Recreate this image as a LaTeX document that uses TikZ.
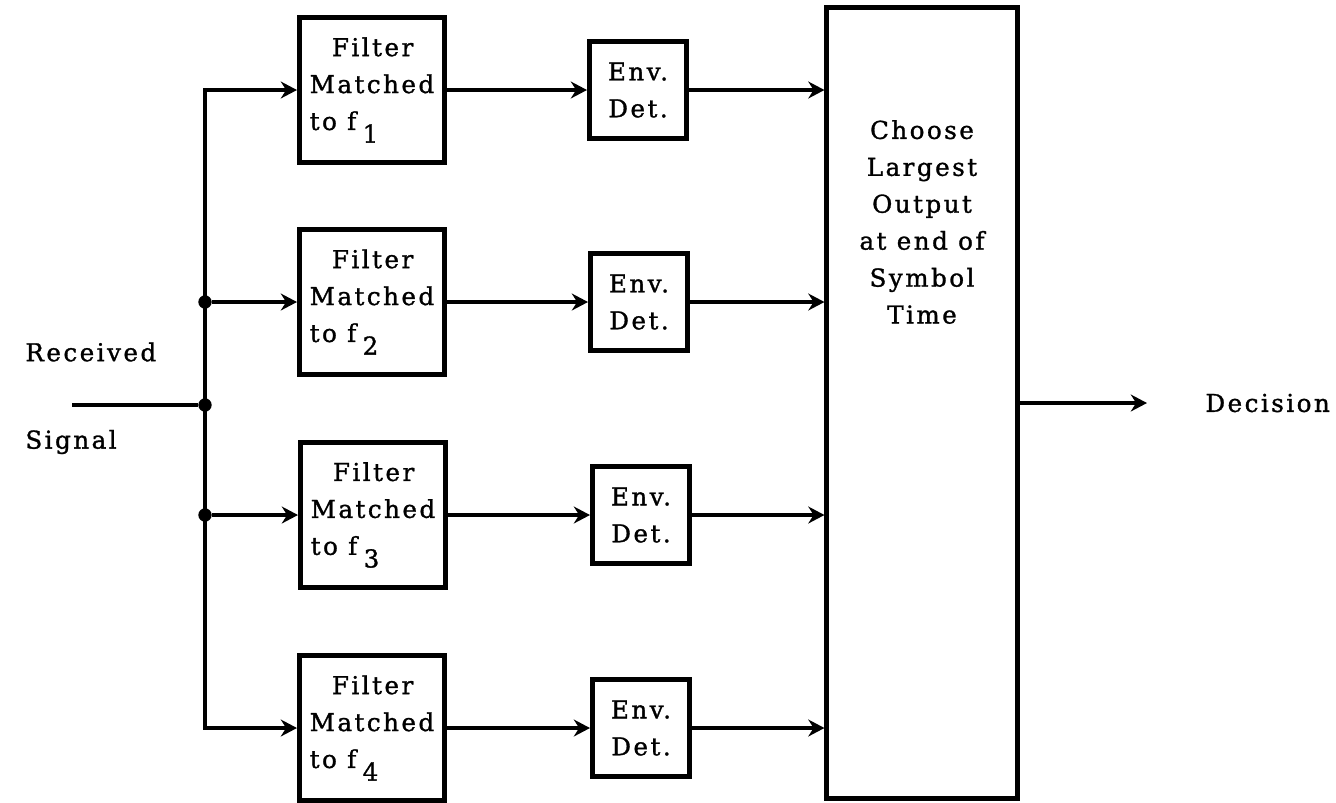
\documentclass[tikz,border=0pt]{standalone}
\usepackage{fontspec}
\setmainfont{DejaVu Serif}[LetterSpace=10,FakeBold=1.2]
\usepackage{tikz}
\usetikzlibrary{arrows.meta,positioning}
\newcommand{\fsub}[1]{f\kern1.8pt\raisebox{-3.6pt}{#1}}
\newcommand{\mfilt}[1]{\hspace*{0.9em}Filter\\Matched\\to \fsub{#1}}
\tikzset{
  blk/.style={draw=black,line width=1.4pt,inner sep=1pt,
              font=\fontsize{7}{10.5}\selectfont},
  fbox/.style={blk,minimum width=1.45cm,minimum height=1.45cm,align=left},
  ebox/.style={blk,minimum width=0.97cm,minimum height=0.97cm,align=center},
  cbox/.style={blk,minimum width=1.9cm,minimum height=7.9cm},
  dot/.style={circle,fill=black,inner sep=0pt,minimum size=3.8pt},
  wire/.style={line width=1.2pt},
  arr/.style={wire,-{Stealth[length=4.6pt,width=4.8pt,inset=1.5pt]}},
  lbl/.style={font=\fontsize{7}{10.5}\selectfont},
}

\begin{document}
\begin{tikzpicture}[x=0.01cm,y=-0.01cm]
  \useasboundingbox (0,0) rectangle (1336,802);

  \node[fbox] (f1) at (372,90)  {\mfilt{1}};
  \node[fbox] (f2) at (372,302) {\mfilt{2}};
  \node[fbox] (f3) at (373,515) {\mfilt{3}};
  \node[fbox] (f4) at (372,728) {\mfilt{4}};

  \node[ebox] (e1) at (638,90)  {Env.\\Det.};
  \node[ebox] (e2) at (639,302) {Env.\\Det.};
  \node[ebox] (e3) at (641,515) {Env.\\Det.};
  \node[ebox] (e4) at (641,728) {Env.\\Det.};

  \node[cbox] (cb) at (922,403) {};
  \node[lbl,align=center] (ct) at (922,222)
    {Choose\\Largest\\Output\\at end of\\Symbol\\Time};

  \node[lbl,anchor=west] (rcv) at (13,352) {Received};
  \node[lbl,anchor=west] (sig) at (13,442) {Signal};
  \node[lbl,anchor=west] (dec) at (1193,403) {Decision};

  \coordinate (bt) at (205,90);
  \coordinate (bb) at (205,728);
  \coordinate (rin) at (72,405);
  \coordinate (dout) at (1147,403);
  \node[dot] (j2) at (205,302) {};
  \node[dot] (j0) at (205,405) {};
  \node[dot] (j3) at (205,515) {};

  \draw[wire] (rin) -- (j0);
  \draw[arr] (bb) |- (f1);
  \draw[arr] (bt) |- (f4);
  \draw[arr] (j2) -- (f2);
  \draw[arr] (j3) -- (f3);
  \foreach \i in {1,...,4}{
    \draw[arr] (f\i) -- (e\i);
    \draw[arr] (e\i) -- (e\i -| cb.west);
  }
  \draw[arr] (cb.east) -- (dout);
\end{tikzpicture}
\end{document}
